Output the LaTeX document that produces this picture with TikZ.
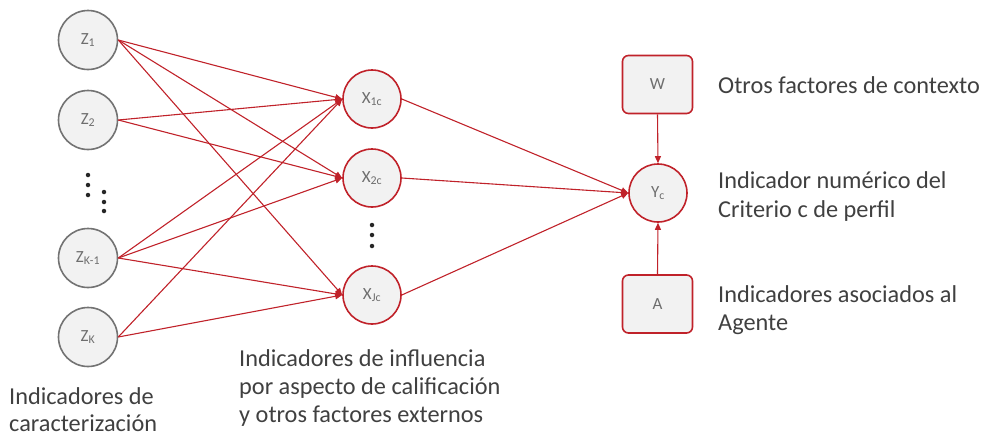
\documentclass[tikz,border=0pt]{standalone}
\usepackage{fontspec}
\setmainfont{Carlito}
\usetikzlibrary{arrows.meta}
\definecolor{myred}{RGB}{192,34,42}
\definecolor{mygray}{RGB}{115,115,115}
\definecolor{myfill}{RGB}{242,242,242}
\definecolor{mytext}{RGB}{64,64,64}
\definecolor{mylabel}{RGB}{110,110,110}
\begin{document}
\begin{tikzpicture}[x=1pt,y=-1pt,
  znode/.style={circle,draw=mygray,fill=myfill,line width=1.6pt,minimum size=59pt,inner sep=0pt,font=\fontsize{17}{19}\selectfont,text=mylabel},
  xnode/.style={circle,draw=myred,fill=myfill,line width=1.6pt,minimum size=58pt,inner sep=0pt,font=\fontsize{17}{19}\selectfont,text=mylabel},
  boxnode/.style={rectangle,rounded corners=6pt,draw=myred,fill=myfill,line width=1.6pt,minimum width=70pt,minimum height=58pt,inner sep=0pt,font=\fontsize{17}{19}\selectfont,text=mylabel},
  conn/.style={draw=myred,line width=1.1pt,-{Triangle[length=7pt,width=6pt]}},
  lbl/.style={anchor=base west,inner sep=0pt,font=\fontsize{24.3}{29}\selectfont,text=mytext},
  dotn/.style={circle,fill=black!85,inner sep=0pt,minimum size=4.5pt}
]
\useasboundingbox (0,0) rectangle (988,437);
% Z nodes
\node[znode] (z1) at (88,40) {Z\textsubscript{1}};
\node[znode] (z2) at (88,120) {Z\textsubscript{2}};
\node[znode] (zk1) at (88,258) {Z\textsubscript{K-1}};
\node[znode] (zk) at (88,337) {Z\textsubscript{K}};
% X nodes
\node[xnode] (x1) at (372,99) {X\textsubscript{1c}};
\node[xnode] (x2) at (372,178) {X\textsubscript{2c}};
\node[xnode] (xj) at (372,295) {X\textsubscript{Jc}};
% Y, W, A
\node[xnode] (y) at (658,193) {Y\textsubscript{c}};
\node[boxnode] (w) at (657.5,84.5) {W};
\node[boxnode] (a) at (657.5,304) {A};
% dots
\node[dotn] (d1) at (88,175) {};
\node[dotn] (d2) at (88,185) {};
\node[dotn] (d3) at (88,195) {};
\node[dotn] (d4) at (104,192) {};
\node[dotn] (d5) at (104,202) {};
\node[dotn] (d6) at (104,211) {};
\node[dotn] (d7) at (372,225) {};
\node[dotn] (d8) at (372,235) {};
\node[dotn] (d9) at (372,246) {};
% connectors Z -> X
\draw[conn] (z1.east) -- (x1.west);
\draw[conn] (z1.east) -- (x2.west);
\draw[conn] (z1.east) -- (xj.west);
\draw[conn] (z2.east) -- (x1.west);
\draw[conn] (z2.east) -- (x2.west);
\draw[conn] (zk1.east) -- (x1.west);
\draw[conn] (zk1.east) -- (x2.west);
\draw[conn] (zk1.east) -- (xj.west);
\draw[conn] (zk.east) -- (x1.west);
\draw[conn] (zk.east) -- (xj.west);
% X -> Y
\draw[conn] (x1.east) -- (y.west);
\draw[conn] (x2.east) -- (y.west);
\draw[conn] (xj.east) -- (y.west);
% W, A -> Y
\draw[conn] (w.south) -- (y.north);
\draw[conn] (a.north) -- (y.south);
% texts
\node[lbl] (t1) at (718,93) {Otros factores de contexto};
\node[lbl] (t2) at (718,188) {Indicador numérico del};
\node[lbl] (t3) at (718,217) {Criterio c de perfil};
\node[lbl] (t4) at (718,302) {Indicadores asociados al};
\node[lbl] (t5) at (718,330) {Agente};
\node[lbl] (t6) at (239,366) {Indicadores de influencia};
\node[lbl] (t7) at (239,394) {por aspecto de calificación};
\node[lbl] (t8) at (239,422) {y otros factores externos};
\node[lbl] (t9) at (9,404) {Indicadores de};
\node[lbl] (t10) at (9,431) {caracterización};
\end{tikzpicture}
\end{document}
